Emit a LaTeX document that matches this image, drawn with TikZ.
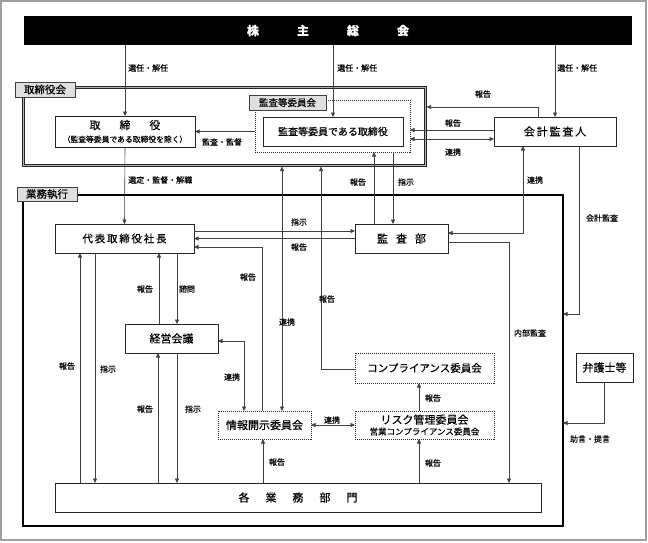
\documentclass[tikz,border=0pt]{standalone}
\usepackage{fontspec}
\setmainfont{Noto Sans CJK JP}[FakeBold=0.4]
\usetikzlibrary{arrows.meta,calc}
\newcommand\fs[1]{\fontsize{#1}{#1}\selectfont}
\begin{document}
\begin{tikzpicture}[x=1pt,y=-1pt,
  lc/.style={draw=black!75,line width=0.6pt},
  arr/.style={lc,-{Triangle[length=4.5pt,width=4pt]}},
  darr/.style={lc,{Triangle[length=4.5pt,width=4pt]}-{Triangle[length=4.5pt,width=4pt]}},
  box/.style={draw=black!85,line width=0.7pt,fill=white,inner sep=0pt,outer sep=0pt,align=center},
  dbox/.style={draw=black!85,line width=0.6pt,dash pattern=on 1pt off 1pt,fill=white,inner sep=0pt,outer sep=0pt,align=center},
  tag/.style={draw=black!75,line width=0.9pt,fill=gray!25,inner sep=0pt,outer sep=0pt,font=\fs{10.5}},
  lab/.style={inner sep=0pt,font=\fs{8}},
]
\useasboundingbox (0,0) rectangle (648,542);
\draw[gray!75,line width=1.4pt] (1,1) rectangle (646,540);

% frames
\node[minimum width=402pt,minimum height=78pt,inner sep=0pt,outer sep=0pt] (board) at (224,126) {};
\draw[black!85,line width=3pt] (board.north west) rectangle (board.south east);
\draw[gray!60,line width=1pt] (board.north west) rectangle (board.south east);
\node[draw=black,line width=1.4pt,minimum width=540pt,minimum height=331pt,inner sep=0pt,outer sep=0pt] (exec) at (293,360.5) {};
\node[tag,minimum width=60pt,minimum height=15pt] (boardtag) at (45,89.5) {取締役会};
\node[tag,minimum width=60pt,minimum height=14pt] (exectag) at (47,194) {業務執行};

% top
\node[fill=black,minimum width=608pt,minimum height=29pt,inner sep=0pt,outer sep=0pt,text=white,font=\fs{12}\bfseries] (soukai) at (328,30.5) {株\hspace{38pt}主\hspace{38pt}総\hspace{38pt}会};

% board members
\node[box,minimum width=140pt,minimum height=31pt] (torishimari) at (125,131.5) {\fs{11}取\hspace{19pt}締\hspace{19pt}役\\[1pt]\fs{7.8}（監査等委員である取締役を除く）};
\node[dbox,minimum width=155pt,minimum height=52pt] (kc) at (332.5,126) {};
\node[tag,minimum width=77pt,minimum height=15pt,font=\fs{9.5}] (kctag) at (287.5,102.5) {監査等委員会};
\node[box,minimum width=140pt,minimum height=29pt,font=\fs{10}] (kd) at (333,131.5) {監査等委員である取締役};
\node[box,minimum width=122pt,minimum height=29pt,font=\fs{11}] (kaikei) at (555,131.5) {会\,計\,監\,査\,人};

% execution
\node[box,minimum width=139pt,minimum height=29pt,font=\fs{10.5}] (daihyo) at (124.5,238.5) {代\,表\,取\,締\,役\,社\,長};
\node[box,minimum width=93pt,minimum height=29pt,font=\fs{11}] (kansabu) at (401.5,238.5) {監\hspace{8pt}査\hspace{8pt}部};
\node[box,minimum width=93pt,minimum height=29pt,font=\fs{11}] (keiei) at (171.5,338.5) {経営会議};
\node[dbox,minimum width=93pt,minimum height=28pt,font=\fs{11}] (joho) at (264.5,425) {情報開示委員会};
\node[dbox,minimum width=139pt,minimum height=30pt,font=\fs{10.5}] (comp) at (424.5,368) {コンプライアンス委員会};
\node[dbox,minimum width=139pt,minimum height=28pt] (risk) at (424.5,425) {\fs{11}リスク管理委員会\\[-1pt]\fs{8.5}営業コンプライアンス委員会};
\node[box,minimum width=486pt,minimum height=29pt,font=\fs{11}] (kakugyo) at (298,497.5) {各\hspace{16pt}業\hspace{16pt}務\hspace{16pt}部\hspace{16pt}門};
\node[box,minimum width=57pt,minimum height=29pt,font=\fs{11}] (bengo) at (604.5,367.5) {弁護士等};

% connectors from shareholders
\draw[arr] (torishimari.north |- soukai.south) -- (torishimari.north);
\draw[arr] (kd.north |- soukai.south) -- (kd.north);
\draw[arr] (kaikei.north |- soukai.south) -- (kaikei.north);
\node[lab,anchor=west] at (128,68) {選任・解任};
\node[lab,anchor=west] at (337,68) {選任・解任};
\node[lab,anchor=west] at (557,68) {選任・解任};

% audit committee -> directors
\draw[arr] (kc.west |- torishimari.east) -- (torishimari.east);
\node[lab] at (222,142) {監査・監督};

% accounting auditor
\draw[arr] (kaikei.north -| 538,0) |- ([xshift=1.5pt]board.east |- 0,107);
\node[lab] at (483,94) {報告};
\path ([yshift=1.5pt]kaikei.west) coordinate (k1);
\path ([yshift=-7.5pt]kaikei.west) coordinate (k2);
\draw[arr] (k1) -- (k1 -| kc.east);
\draw[darr] (k2 -| kc.east) -- (k2);
\node[lab] at (453,123) {報告};
\node[lab] at (453,152) {連携};

% audit dept <-> committee
\draw[arr] (kansabu.north -| 374,0) -- (kc.south -| 374,0);
\draw[arr] (kc.south -| 393,0) -- (kansabu.north -| 393,0);
\node[lab] at (358,182) {報告};
\node[lab] at (406,182) {指示};

\draw[darr] (kaikei.south -| 523,0) |- ([yshift=5.5pt]kansabu.east);
\node[lab] at (535,180) {連携};

\draw[arr] ([yshift=-3.5pt]kansabu.east) -| (kakugyo.north -| 509,0);
\node[lab] at (530,333) {内部監査};

\draw[arr] (kaikei.south -| 579,0) |- (exec.east |- 0,314);
\node[lab] at (602,218) {会計監査};

\draw[arr] (bengo.south) |- (exec.east |- 0,423);
\node[lab] at (590,439) {助言・提言};

% board -> president
\draw[arr] (torishimari.south) -- (daihyo.north);
\node[lab,anchor=west] at (128,180) {選定・監督・解職};

% president <-> audit dept
\path ([yshift=7.5pt]daihyo.east) coordinate (d1);
\draw[arr] (d1) -- (d1 -| kansabu.west);
\draw[arr] (kansabu.west) -- (kansabu.west -| daihyo.east);
\node[lab] at (299,222) {指示};
\node[lab] at (299,247) {報告};

\draw[arr] (joho.north -| 262,0) |- ([yshift=-8.5pt]daihyo.east);
\node[lab] at (248,277) {報告};

% president <-> departments
\draw[arr] (kakugyo.north -| 80,0) -- (daihyo.south -| 80,0);
\draw[arr] (daihyo.south -| 95,0) -- (kakugyo.north -| 95,0);
\node[lab] at (67,366) {報告};
\node[lab] at (108,369) {指示};

% president <-> management meeting
\draw[arr] (keiei.north -| 159,0) -- (daihyo.south -| 159,0);
\draw[arr] (daihyo.south -| 177,0) -- (keiei.north -| 177,0);
\node[lab] at (145,289) {報告};
\node[lab] at (187,289) {諮問};

\draw[arr] (kakugyo.north -| 158,0) -- (keiei.south -| 158,0);
\draw[arr] (keiei.south -| 177,0) -- (kakugyo.north -| 177,0);
\node[lab] at (145,409) {報告};
\node[lab] at (193,409) {指示};

% disclosure committee
\draw[darr] ([yshift=-2.5pt]keiei.east) -| (joho.north -| 244,0);
\node[lab] at (232,377) {連携};
\draw[darr] (joho.north -| 282,0) -- ([yshift=-1.5pt]board.south -| 282,0);
\node[lab] at (287,322) {連携};
\draw[arr] (kakugyo.north -| 263,0) -- (joho.south -| 263,0);
\node[lab] at (277,462) {報告};

% compliance
\draw[arr] ([yshift=-1pt]comp.west) -| ([yshift=-1.5pt]board.south -| 321,0);
\node[lab] at (327,299) {報告};

\draw[darr] (joho.east) -- (joho.east -| risk.west);
\node[lab] at (332,420) {連携};
\draw[arr] (risk.north -| 419,0) -- (comp.south -| 419,0);
\node[lab] at (433,398) {報告};
\draw[arr] (kakugyo.north -| 419,0) -- (risk.south -| 419,0);
\node[lab] at (433,463) {報告};
\end{tikzpicture}
\end{document}
